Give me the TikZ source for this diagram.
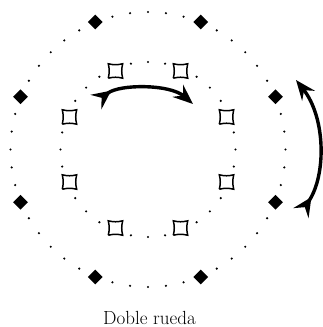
\documentclass[tikz,border=0pt]{standalone}
\usepackage{fontspec}
\usepackage{tikz}
\usetikzlibrary{calc}
\usetikzlibrary{arrows.meta, shapes}

\begin{document}
\begin{tikzpicture}[x = 1pt, y = -1pt]

\tikzstyle{vertex_D}=[diamond, fill=black, minimum width = 15pt, minimum height = 15pt, inner sep = 0pt]
\tikzstyle{vertex_S}=[rectangle, minimum size = 14pt, inner sep = 0pt]
\tikzstyle{vertex_p}=[circle, fill=black, minimum size = 2.4pt, inner sep = 0pt]
\tikzstyle{turn}=[line width = 3.4pt, {Stealth[reversed, length = 19pt, width = 18pt, inset = 7pt]}-{Stealth[length = 20pt, width = 16pt, inset = 7pt]}]

\useasboundingbox (0, 0) rectangle (323, 327);

\coordinate (O) at (148, 149.5);
\coordinate (in1) at (96, 102);
\coordinate (in2) at (193, 104);
\coordinate (out1) at (301, 213);
\coordinate (out2) at (296, 80);

% outer wheel
\foreach \k in {0,...,7} {
  \node[vertex_D] (d\k) at ($(O) + (22.5 + 45*\k:138)$) {};
  \foreach \j in {1,...,5}
    \node[vertex_p] (od\k\j) at ($(O) + (22.5 + 45*\k + 7.5*\j:137.5)$) {};
}

% inner wheel
\foreach \k in {0,...,7} {
  \node[vertex_S] (s\k) at ($(O) + (22.5 + 45*\k:85)$) {};
  \draw[line width = 1.5pt] (s\k.south west) to[bend left = 13] (s\k.south east)
    to[bend left = 13] (s\k.north east) to[bend left = 13] (s\k.north west)
    to[bend left = 13] (s\k.south west);
  \foreach \j in {1,2,3}
    \node[vertex_p] (id\k\j) at ($(O) + (22.5 + 45*\k + 11.25*\j:87.5)$) {};
}

%arrows
\draw[turn] (in1) .. controls (120, 84) and (170, 84) .. (in2);
\draw[turn] (out1) .. controls (326, 175) and (326, 118) .. (out2);

\node[anchor = base, inner sep = 0pt] (caption) at (149.5, 324.5) {\fontsize{19}{22}\selectfont\addfontfeature{LetterSpace = 7}Doble rueda};

\end{tikzpicture}
\end{document}
